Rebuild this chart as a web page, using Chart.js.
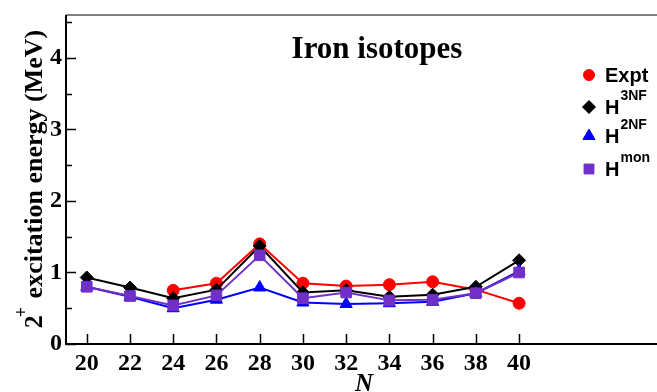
<!DOCTYPE html>
<html>
<head>
<meta charset="utf-8">
<title>Iron isotopes</title>
<script src="https://cdn.jsdelivr.net/npm/chart.js@4/dist/chart.umd.min.js"></script>
<style>
  html, body { margin: 0; padding: 0; background: #fff; }
  #wrap { width: 657px; height: 392px; }
</style>
</head>
<body>
<div id="wrap"><canvas id="chart" width="657" height="392"></canvas></div>
<script>
// 2+ excitation energies (MeV) of the even iron isotopes vs neutron number
const neutrons = [20, 22, 24, 26, 28, 30, 32, 34, 36, 38, 40];
const expt = [null, null, 0.75, 0.85, 1.40, 0.85, 0.81, 0.83, 0.87, 0.76, 0.57];
const h3nf = [0.93, 0.79, 0.64, 0.76, 1.37, 0.72, 0.75, 0.66, 0.69, 0.80, 1.17];
const h2nf = [0.80, 0.66, 0.50, 0.62, 0.79, 0.58, 0.56, 0.57, 0.59, 0.71, 1.02];
const hmon = [0.80, 0.67, 0.54, 0.68, 1.24, 0.64, 0.72, 0.61, 0.62, 0.71, 1.00];

const xTicks = [20, 22, 24, 26, 28, 30, 32, 34, 36, 38, 40];
const yTicks = [0, 0.5, 1, 1.5, 2, 2.5, 3, 3.5, 4, 4.5];

const serif = '"Liberation Serif", "Times New Roman", serif';
const sans = '"Liberation Sans", Arial, sans-serif';

function series(label, values, color, style, radius, order, sup) {
    return {
        label: label,
        sup: sup,
        data: neutrons.map((n, i) => ({ x: n, y: values[i] })),
        borderColor: color,
        backgroundColor: color,
        pointBackgroundColor: color,
        pointBorderColor: color,
        pointBorderWidth: 1,
        pointStyle: style,
        pointRadius: radius,
        borderWidth: 2,
        tension: 0,
        order: order
    };
}

const datasets = [
    series('Expt', expt, '#ff0000', 'circle', 6, 4, ''),
    series('H', h3nf, '#000000', 'rectRot', 6.5, 3, '3NF'),
    series('H', h2nf, '#0000ff', 'triangle', 7, 2, '2NF'),
    series('H', hmon, '#7030c8', 'rect', 7.5, 1, 'mon')
];

// axes, inward ticks, title, legend and axis titles
const decorations = {
    id: 'decorations',
    beforeDatasetsDraw(chart) {
        const { ctx, chartArea: a, scales } = chart;
        const x = scales.x, y = scales.y;
        ctx.save();
        ctx.lineCap = 'butt';
        // top frame line
        ctx.strokeStyle = '#808080';
        ctx.lineWidth = 2;
        ctx.beginPath();
        ctx.moveTo(a.left, a.top);
        ctx.lineTo(a.right, a.top);
        ctx.stroke();
        // left and bottom axes
        ctx.strokeStyle = '#000';
        ctx.beginPath();
        ctx.moveTo(a.left, a.top);
        ctx.lineTo(a.left, a.bottom);
        ctx.lineTo(a.right, a.bottom);
        ctx.stroke();
        ctx.lineWidth = 1.5;
        ctx.beginPath();
        x.ticks.forEach(t => {
            const px = Math.round(x.getPixelForValue(t.value)) + 0.5;
            ctx.moveTo(px, a.bottom);
            ctx.lineTo(px, a.bottom - 10);
        });
        y.ticks.forEach(t => {
            const py = Math.round(y.getPixelForValue(t.value)) + 0.5;
            const len = Number.isInteger(t.value) ? 10 : 6;
            ctx.moveTo(a.left, py);
            ctx.lineTo(a.left + len, py);
        });
        ctx.stroke();
        ctx.restore();
    },
    afterDraw(chart) {
        const { ctx } = chart;
        ctx.save();
        ctx.fillStyle = '#000';

        // plot title
        ctx.font = 'bold 31px ' + serif;
        ctx.textAlign = 'center';
        ctx.textBaseline = 'alphabetic';
        ctx.fillText('Iron isotopes', 377, 58);

        // x axis title
        ctx.font = 'italic bold 25px ' + serif;
        ctx.fillText('N', 364, 391);

        // y axis title with superscript
        ctx.textAlign = 'left';
        ctx.translate(42, 179);
        ctx.rotate(-Math.PI / 2);
        ctx.font = 'bold 26px ' + serif;
        const w2 = ctx.measureText('2').width;
        const rest = ' excitation energy (MeV)';
        const wr = ctx.measureText(rest).width;
        ctx.font = 'bold 18px ' + serif;
        const wp = ctx.measureText('+').width;
        let sx = -(w2 + wp + wr) / 2;
        ctx.font = 'bold 26px ' + serif;
        ctx.fillText('2', sx, 0);
        ctx.font = 'bold 18px ' + serif;
        ctx.fillText('+', sx + w2 - 2, -15);
        ctx.font = 'bold 26px ' + serif;
        ctx.fillText(rest, sx + w2 + wp, 0);
        ctx.setTransform(1, 0, 0, 1, 0, 0);

        // legend
        const rows = [75, 107, 136, 169];
        const sizes = [5.5, 6.5, 7, 7];
        chart.data.datasets.forEach((ds, i) => {
            const cy = rows[i];
            ctx.fillStyle = ds.backgroundColor;
            ctx.strokeStyle = ds.borderColor;
            ctx.lineWidth = 1;
            Chart.helpers.drawPoint(ctx, { pointStyle: ds.pointStyle, radius: sizes[i], rotation: 0, borderWidth: 1 }, 589, cy);
            ctx.fillStyle = '#000';
            ctx.font = 'bold 20px ' + sans;
            ctx.fillText(ds.label, 605, cy + 7);
            if (ds.sup) {
                const lw = ctx.measureText(ds.label).width;
                ctx.font = 'bold 14px ' + sans;
                ctx.fillText(ds.sup, 605 + lw + 1, cy - 7);
            }
        });
        ctx.restore();
    }
};

new Chart(document.getElementById('chart'), {
    type: 'line',
    data: { datasets: datasets },
    options: {
        responsive: false,
        animation: false,
        devicePixelRatio: 1,
        layout: { autoPadding: false, padding: { top: 15, right: 0, left: 0, bottom: 0 } },
        plugins: {
            legend: { display: false },
            title: { display: false },
            tooltip: { enabled: false }
        },
        scales: {
            x: {
                type: 'linear',
                min: 19.04,
                max: 46.38,
                afterBuildTicks: s => { s.ticks = xTicks.map(v => ({ value: v })); },
                afterFit: s => { s.height = 48; s.paddingLeft = 0; s.paddingRight = 0; },
                grid: { display: false, drawTicks: false },
                border: { display: false },
                ticks: {
                    autoSkip: false,
                    maxRotation: 0,
                    padding: 5,
                    color: '#000',
                    font: { family: serif, size: 24, weight: 'bold' }
                }
            },
            y: {
                min: 0,
                max: 4.6,
                afterBuildTicks: s => { s.ticks = yTicks.map(v => ({ value: v })); },
                afterFit: s => { s.width = 66; s.paddingTop = 0; s.paddingBottom = 0; },
                grid: { display: false, drawTicks: false },
                border: { display: false },
                ticks: {
                    padding: 4,
                    color: '#000',
                    font: { family: serif, size: 24, weight: 'bold' },
                    callback: v => Number.isInteger(v) ? String(v) : ''
                }
            }
        }
    },
    plugins: [decorations]
});
</script>
</body>
</html>
